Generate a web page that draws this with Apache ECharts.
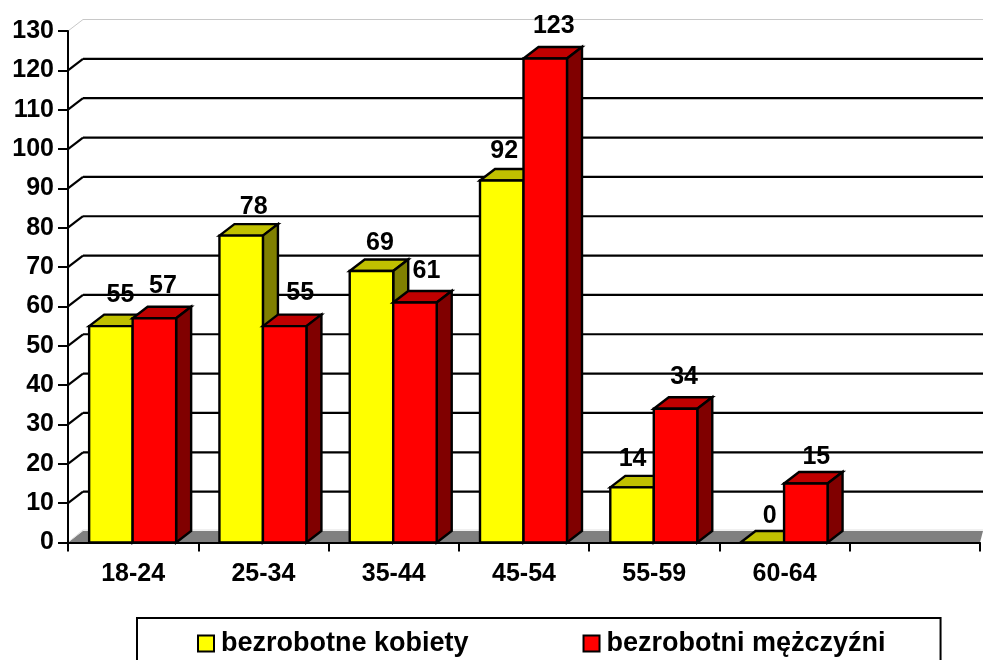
<!DOCTYPE html>
<html><head><meta charset="utf-8">
<style>html,body{margin:0;padding:0;background:#fff;overflow:hidden}#c{width:983px;height:660px}</style>
<script src="https://cdn.jsdelivr.net/npm/echarts@6/dist/echarts.min.js"></script>
</head><body><div id="c"></div>
<script>
const categories = ['18-24','25-34','35-44','45-54','55-59','60-64',''];
const kobiety = [55,78,69,92,14,0];
const mezczyzni = [57,55,61,123,34,15];
const yTicks = [0,10,20,30,40,50,60,70,80,90,100,110,120,130];
const nameK = 'bezrobotne kobiety', nameM = 'bezrobotni mężczyźni';

const DX = 15, DY = 11.5, BAR = 43.5 / 130.3;
const FONT = '"Liberation Sans", Arial, sans-serif';
const BLACK = '#000';
// small placement nudges of the value labels, as in the original
const nudgeK = [[1,1],[4,4],[0,4],[-6,3],[-8,4],[-1,6]];
const nudgeM = [[0,0],[7,-1],[3,1],[0,0],[0,0],[2,6]];

function poly(points, fill, z2) {
  return {type:'polygon', z2, shape:{points}, style:{fill, stroke:BLACK, lineWidth:2.4, lineJoin:'miter'}};
}
function barRenderer(side, cols) {
  return function (params, api) {
    const cat = api.value(0), val = api.value(1);
    const c = api.coord([cat, val]), b = api.coord([cat, 0]);
    const w = api.size([1, 0])[0] * BAR;
    const x0 = side < 0 ? c[0] - w - 0.5 : c[0] - 0.5, x1 = x0 + w;
    const t = c[1], g = b[1];
    const children = [];
    children.push(poly([[x0,t],[x0+DX,t-DY],[x1+DX,t-DY],[x1,t]], cols[1], 1));
    if (val > 0) {
      children.push(poly([[x1,t],[x1+DX,t-DY],[x1+DX,g-DY],[x1,g]], cols[2], 1));
      children.push(poly([[x0,t],[x1,t],[x1,g],[x0,g]], cols[0], 2));
    }
    return {type:'group', children};
  };
}
function labelRenderer(side, nudge) {
  return function (params, api) {
    const cat = api.value(0), val = api.value(1);
    const c = api.coord([cat, val]);
    const w = api.size([1, 0])[0] * BAR;
    const n = nudge[cat];
    const x = (side < 0 ? c[0] - w / 2 : c[0] + w / 2) + 8 + n[0];
    return {type:'text', style:{text:String(val), x, y:c[1] - 32 + n[1], align:'center', verticalAlign:'middle',
      font:'bold 25px ' + FONT, fill:BLACK}};
  };
}
function wallRenderer(params, api) {
  const v = api.value(0);
  const cs = params.coordSys;
  const p = api.coord([0, v]);
  const left = cs.x, right = cs.x + cs.width, y = p[1];
  if (v === 0) {
    return {type:'group', children:[
      {type:'polygon', shape:{points:[[left,y],[left+DX,y-DY],[right+3,y-DY],[right,y]]}, style:{fill:'#808080'}},
      {type:'line', shape:{x1:left+DX,y1:y-DY-1,x2:right+3,y2:y-DY-1}, style:{stroke:'#e0e0e0',lineWidth:1}},
      {type:'line', shape:{x1:left+1,y1:y-1,x2:left+DX,y2:y-DY-1}, style:{stroke:'#e0e0e0',lineWidth:1}}
    ]};
  }
  const col = v === 130 ? '#c8c8c8' : BLACK;
  const lw = v === 130 ? 1 : 2.2;
  const g = {type:'group', children:[
    {type:'line', shape:{x1:left+DX,y1:y-DY,x2:right+3,y2:y-DY}, style:{stroke:col,lineWidth:lw}}
  ]};
  g.children.push({type:'line', shape:{x1:left,y1:y,x2:left+DX,y2:y-DY}, style:{stroke:col,lineWidth:lw}});
  return g;
}

const chart = echarts.init(document.getElementById('c'), null, {renderer:'canvas'});
chart.setOption({
  animation:false,
  backgroundColor:'#fff',
  grid:{left:68, top:31, width:912, height:511.5},
  legend:{
    left:137, top:618, orient:'horizontal', padding:[12,55,30,60], itemGap:114,
    itemWidth:16, itemHeight:16, borderColor:BLACK, borderWidth:2, backgroundColor:'#fff',
    selectedMode:false,
    textStyle:{fontFamily:'Liberation Sans', fontWeight:'bold', fontSize:27, color:BLACK, padding:[0,0,0,2]},
    data:[
      {name:nameK, icon:'rect', itemStyle:{color:'#FFFF00', borderColor:BLACK, borderWidth:2}},
      {name:nameM, icon:'rect', itemStyle:{color:'#FF0000', borderColor:BLACK, borderWidth:2}}
    ]
  },
  xAxis:{
    type:'category', data:categories, z:2,
    axisLine:{show:true, lineStyle:{color:BLACK, width:2}},
    axisTick:{show:true, length:9, lineStyle:{color:BLACK, width:2}, alignWithLabel:false},
    axisLabel:{color:BLACK, fontFamily:'Liberation Sans', fontWeight:'bold', fontSize:25, margin:19, interval:0},
    splitLine:{show:false}
  },
  yAxis:{
    type:'value', min:0, max:130, interval:10, z:2,
    axisLine:{show:true, lineStyle:{color:BLACK, width:2}},
    axisTick:{show:true, length:10, lineStyle:{color:BLACK, width:2}},
    axisLabel:{color:BLACK, fontFamily:'Liberation Sans', fontWeight:'bold', fontSize:25, margin:14, padding:[3,0,0,0], showMinLabel:true, showMaxLabel:true},
    splitLine:{show:false}
  },
  series:[
    {type:'custom', name:'wall', z:1, silent:true, renderItem:wallRenderer,
      coordinateSystem:'cartesian2d', data:yTicks.map(v=>[v]), encode:{x:-1,y:0}},
    {type:'custom', name:nameK, z:3, renderItem:barRenderer(-1,['#FFFF00','#C0C000','#808000']),
      itemStyle:{color:'#FFFF00'}, data:kobiety.map((v,i)=>[i,v]), encode:{x:0,y:1}},
    {type:'custom', name:nameM, z:4, renderItem:barRenderer(1,['#FF0000','#C00000','#800000']),
      itemStyle:{color:'#FF0000'}, data:mezczyzni.map((v,i)=>[i,v]), encode:{x:0,y:1}},
    {type:'custom', name:'labelsK', z:5, silent:true, renderItem:labelRenderer(-1,nudgeK), data:kobiety.map((v,i)=>[i,v]), encode:{x:0,y:1}},
    {type:'custom', name:'labelsM', z:5, silent:true, renderItem:labelRenderer(1,nudgeM), data:mezczyzni.map((v,i)=>[i,v]), encode:{x:0,y:1}}
  ]
});
</script></body></html>
